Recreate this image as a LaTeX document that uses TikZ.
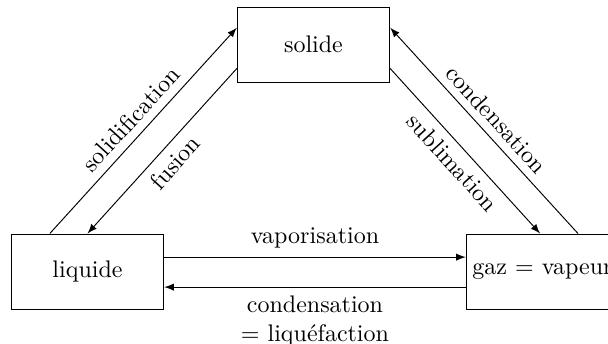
\documentclass[tikz,border=0pt]{standalone}
\usepackage{fontspec}
\usepackage{amssymb}
\usepackage{tikz}
\usetikzlibrary{arrows}

\begin{document}
\begin{tikzpicture}[x=0.4167pt,y=-0.4167pt,
	etat/.style={draw,minimum width=63.5pt,minimum height=31.25pt,inner sep=0pt},
	fleche/.style={-latex}]
	\useasboundingbox (0,0) rectangle (608,344);
	% Define the states
	\node[etat] (solide) at (313.5,44.5) {solide};
	\node[etat] (liquide) at (87.5,271.5) {liquide};
	\node[etat] (gaz) at (542.5,271.5) {gaz $=$ vapeur};
	% Left side
	\draw[fleche] ([xshift=-15.7pt]liquide.north) -- ([yshift=7pt]solide.west) node[midway,sloped,above] {solidification};
	\draw[fleche] ([yshift=-10pt]solide.west) -- (liquide.north) node[midway,sloped,below] {fusion};
	% Right side
	\draw[fleche] ([yshift=-10pt]solide.east) -- ([xshift=-1pt]gaz.north) node[midway,sloped,below] {sublimation};
	\draw[fleche] ([xshift=14.8pt]gaz.north) -- ([yshift=7pt]solide.east) node[midway,sloped,above] {condensation};
	% Bottom
	\draw[fleche] ([yshift=6pt]liquide.east) -- ([yshift=6pt]gaz.west) node[midway,above] {vaporisation};
	\draw[fleche] ([yshift=-6.5pt]gaz.west) -- ([yshift=-6.5pt]liquide.east) node[midway,below,align=center] {condensation\\$=$ liquéfaction};
\end{tikzpicture}
\end{document}
